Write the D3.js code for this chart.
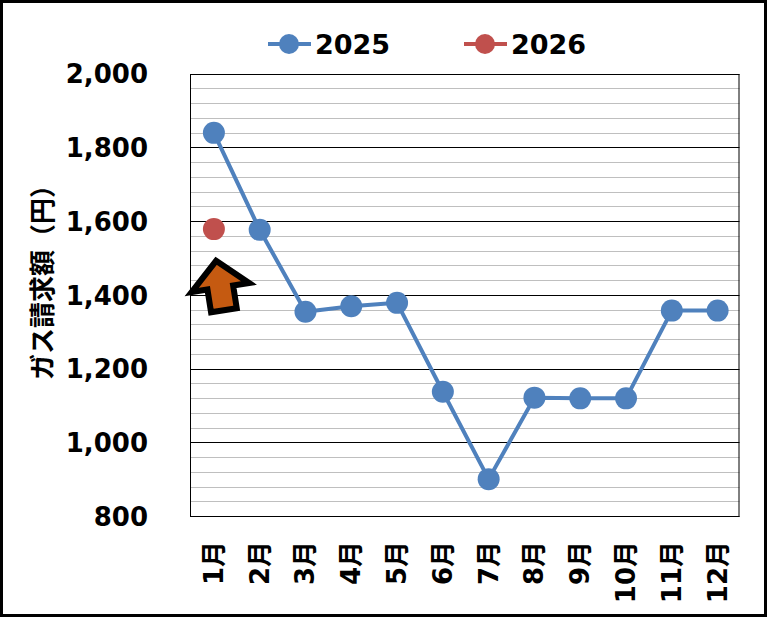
<!DOCTYPE html>
<html>
<head>
<meta charset="utf-8">
<script src="https://cdn.jsdelivr.net/npm/d3@7"></script>
<style>
  html, body { margin: 0; padding: 0; background: #fff; }
  svg { display: block; }
</style>
</head>
<body>
<svg id="chart" width="767" height="617"></svg>
<script>
const months = ["1月","2月","3月","4月","5月","6月","7月","8月","9月","10月","11月","12月"];
const values2025 = [1839, 1576, 1354, 1369, 1378, 1137, 900, 1121, 1119, 1119, 1357, 1357];
const values2026 = [1578];
const seriesNames = ["2025", "2026"];
const seriesColors = ["#4F81BD", "#C0504D"];
const yTicks = [800, 1000, 1200, 1400, 1600, 1800, 2000];
const yMinorStep = 40;
const yTitle = "ガス請求額（円）";

const W = 767, H = 617;
const plot = { left: 190, right: 739.5, top: 73.5, bottom: 516 };
const numFont = "'DejaVu Sans', 'Noto Sans CJK JP', sans-serif";
const cjkFont = "'Noto Sans CJK JP', sans-serif";

const svg = d3.select("#chart");
svg.append("rect").attr("x", 0).attr("y", 0).attr("width", W).attr("height", H).attr("fill", "#fff");

const x = d3.scaleBand().domain(months).range([plot.left + 1, plot.right + 1]).paddingInner(0).paddingOuter(0);
const cx = m => x(m) + x.bandwidth() / 2;
const y = d3.scaleLinear().domain([800, 2000]).range([plot.bottom, plot.top]);

// minor gridlines
const minor = d3.range(800, 2000 + 1, yMinorStep).filter(v => !yTicks.includes(v));
svg.append("g").selectAll("line").data(minor).join("line")
  .attr("x1", plot.left).attr("x2", plot.right)
  .attr("y1", d => Math.round(y(d)) + 0.5).attr("y2", d => Math.round(y(d)) + 0.5)
  .attr("stroke", "#BFBFBF").attr("stroke-width", 1);

// major gridlines
svg.append("g").selectAll("line").data(yTicks).join("line")
  .attr("x1", plot.left).attr("x2", plot.right)
  .attr("y1", d => Math.round(y(d)) + 0.5).attr("y2", d => Math.round(y(d)) + 0.5)
  .attr("stroke", "#000").attr("stroke-width", 1);

// plot border
svg.append("rect")
  .attr("x", plot.left + 0.5).attr("y", Math.round(plot.top) + 0.5)
  .attr("width", plot.right - plot.left - 1).attr("height", Math.round(plot.bottom) - Math.round(plot.top))
  .attr("fill", "none").attr("stroke", "#000").attr("stroke-width", 1);

// y axis labels
const yAxis = d3.axisLeft(y).tickValues(yTicks).tickSize(0).tickPadding(0).tickFormat(d3.format(","));
const gy = svg.append("g").attr("transform", `translate(${148},0)`).call(yAxis);
gy.select(".domain").remove();
gy.selectAll("text")
  .attr("font-family", numFont).attr("font-weight", "bold").attr("font-size", 26)
  .attr("fill", "#000").attr("dy", "0.36em");

// x axis labels (rotated)
svg.append("g").selectAll("text").data(months).join("text")
  .attr("transform", d => `translate(${cx(d)},541) rotate(-90)`)
  .attr("text-anchor", "end")
  .attr("dominant-baseline", "central")
  .attr("font-family", numFont).attr("font-weight", "bold").attr("font-size", 26)
  .attr("fill", "#000")
  .text(d => d);

// y title
svg.append("text")
  .attr("transform", `translate(40,276) rotate(-90)`)
  .attr("text-anchor", "middle")
  .attr("dominant-baseline", "central")
  .attr("font-family", cjkFont).attr("font-weight", "bold").attr("font-size", 26)
  .attr("fill", "#000")
  .text(yTitle);

// 2025 line
const line = d3.line().x((d, i) => cx(months[i])).y(d => y(d));
svg.append("path").datum(values2025)
  .attr("d", line).attr("fill", "none")
  .attr("stroke", seriesColors[0]).attr("stroke-width", 4).attr("stroke-linejoin", "round");

svg.append("g").selectAll("circle").data(values2025).join("circle")
  .attr("cx", (d, i) => cx(months[i])).attr("cy", d => y(d)).attr("r", 11)
  .attr("fill", seriesColors[0]);

// 2026
svg.append("path").datum(values2026)
  .attr("d", line).attr("fill", "none")
  .attr("stroke", seriesColors[1]).attr("stroke-width", 4);
svg.append("g").selectAll("circle").data(values2026).join("circle")
  .attr("cx", (d, i) => cx(months[i])).attr("cy", d => y(d)).attr("r", 11)
  .attr("fill", seriesColors[1]);

// arrow annotation
const arrowPts = [[0,-50],[29,-23],[13,-23],[13,0],[-13,0],[-13,-23],[-29,-23]];
svg.append("polygon")
  .attr("transform", `translate(${cx(months[0]) + 10},${y(1358)}) rotate(-9)`)
  .attr("points", arrowPts.map(p => p.join(",")).join(" "))
  .attr("fill", "#C55A11").attr("stroke", "#000").attr("stroke-width", 6)
  .attr("stroke-linejoin", "miter").attr("stroke-miterlimit", 10);

// legend
const legendX = [268, 464];
const legendY = 44;
seriesNames.forEach((name, i) => {
  const g = svg.append("g").attr("transform", `translate(${legendX[i]},${legendY})`);
  g.append("line").attr("x1", 0).attr("x2", 43).attr("y1", 0).attr("y2", 0)
    .attr("stroke", seriesColors[i]).attr("stroke-width", 4);
  g.append("circle").attr("cx", 21).attr("cy", 0).attr("r", 10).attr("fill", seriesColors[i]);
  g.append("text").attr("x", 47).attr("y", 0).attr("dy", "0.36em")
    .attr("font-family", numFont).attr("font-weight", "bold").attr("font-size", 27)
    .attr("fill", "#000").text(name);
});

// outer frame
svg.append("rect").attr("x", 1.5).attr("y", 1.5).attr("width", W - 3).attr("height", H - 3)
  .attr("fill", "none").attr("stroke", "#000").attr("stroke-width", 3);
</script>
</body>
</html>
